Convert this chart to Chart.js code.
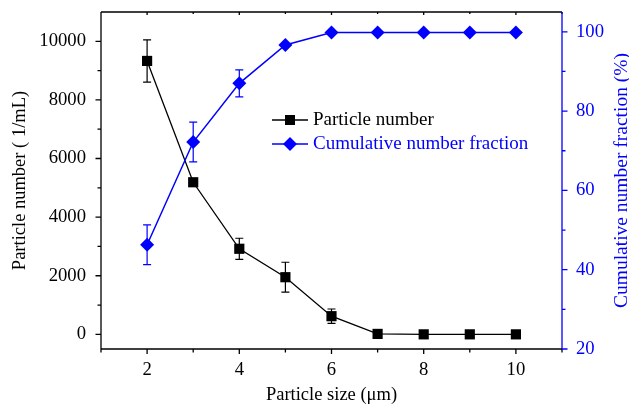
<!DOCTYPE html>
<html><head><meta charset="utf-8">
<script src="https://cdn.jsdelivr.net/npm/chart.js@4"></script>
<style>html,body{margin:0;padding:0;background:#fff}</style>
</head><body>
<canvas id="c" width="629" height="406"></canvas>
<script>
const sizes = [2, 3, 4, 5, 6, 7, 8, 9, 10];
const particleNumber = [9330, 5190, 2920, 1950, 620, 15, 0, 0, 0];
const particleNumberErr = [720, 0, 360, 510, 245, 0, 0, 0, 0];
const cumulativeFraction = [46.3, 72.2, 87.0, 96.7, 99.8, 99.8, 99.8, 99.8, 99.8];
const cumulativeFractionErr = [5, 5, 3.4, 0, 0, 0, 0, 0, 0];
const xTickLabels = [2, 4, 6, 8, 10];
const leftTickLabels = [0, 2000, 4000, 6000, 8000, 10000];
const rightTickLabels = [20, 40, 60, 80, 100];
const seriesNames = ['Particle number', 'Cumulative number fraction'];
const axisTitles = ['Particle size (μm)', 'Particle number ( 1/mL)', 'Cumulative number fraction (%)'];

const FONT = 'Liberation Serif';
const BLUE = '#0000ff';
const BLACK = '#000000';
const TICK_SIZE = 18.7;
const TITLE_SIZE = 18.5;
const RIGHT_TITLE_SIZE = 19.5;
const LEGEND_SIZE = 19;

function noPad(s) { s.paddingLeft = 0; s.paddingRight = 0; s.paddingTop = 0; s.paddingBottom = 0; }

const errorBars = {
  id: 'errorBars',
  beforeDatasetsDraw(chart) {
    const ctx = chart.ctx;
    chart.data.datasets.forEach(ds => {
      if (!ds.errors) return;
      const xs = chart.scales.x, ys = chart.scales[ds.yAxisID];
      ctx.save();
      ctx.strokeStyle = ds.borderColor;
      ctx.lineWidth = 1.2;
      ds.data.forEach((p, j) => {
        const e = ds.errors[j];
        if (!e) return;
        const x = xs.getPixelForValue(p.x);
        const y1 = ys.getPixelForValue(p.y + e), y2 = ys.getPixelForValue(p.y - e);
        ctx.beginPath();
        ctx.moveTo(x, y1); ctx.lineTo(x, y2);
        ctx.moveTo(x - 4, y1); ctx.lineTo(x + 4, y1);
        ctx.moveTo(x - 4, y2); ctx.lineTo(x + 4, y2);
        ctx.stroke();
      });
      ctx.restore();
    });
  }
};

const frame = {
  id: 'frame',
  afterDraw(chart) {
    const ctx = chart.ctx;
    const a = chart.chartArea;
    const xs = chart.scales.x, yl = chart.scales.y, yr = chart.scales.y2;
    ctx.save();
    ctx.lineWidth = 1.3;
    ctx.strokeStyle = BLACK;
    ctx.beginPath();
    ctx.moveTo(a.left, a.top); ctx.lineTo(a.right, a.top);
    ctx.moveTo(a.left, a.top); ctx.lineTo(a.left, a.bottom);
    ctx.moveTo(a.left, a.bottom); ctx.lineTo(a.right, a.bottom);
    for (let v = xs.min; v <= xs.max; v += 1) {
      const x = xs.getPixelForValue(v);
      const major = xTickLabels.includes(v);
      ctx.moveTo(x, a.bottom); ctx.lineTo(x, a.bottom + (major ? 5 : 3.5));
      ctx.moveTo(x, a.top); ctx.lineTo(x, a.top + (major ? 3 : 2));
    }
    for (let v = 0; v <= 10000; v += 1000) {
      const y = yl.getPixelForValue(v);
      const major = leftTickLabels.includes(v);
      ctx.moveTo(a.left, y); ctx.lineTo(a.left - (major ? 5.5 : 3.5), y);
    }
    ctx.stroke();
    ctx.strokeStyle = BLUE;
    ctx.beginPath();
    ctx.moveTo(a.right, a.top); ctx.lineTo(a.right, a.bottom);
    for (let v = 20; v <= 100; v += 10) {
      const y = yr.getPixelForValue(v);
      const major = rightTickLabels.includes(v);
      ctx.moveTo(a.right, y); ctx.lineTo(a.right + (major ? 5.5 : 3.5), y);
    }
    ctx.stroke();
    // right axis title, reading bottom to top
    ctx.translate(621.5, (a.top + a.bottom) / 2);
    ctx.rotate(-Math.PI / 2);
    ctx.fillStyle = BLUE;
    ctx.font = RIGHT_TITLE_SIZE + 'px "' + FONT + '"';
    ctx.textAlign = 'center';
    ctx.textBaseline = 'middle';
    ctx.fillText(axisTitles[2], 0, 0);
    ctx.restore();
  }
};

const legendBox = {
  id: 'legendBox',
  afterDraw(chart) {
    const ctx = chart.ctx;
    const x0 = 272, x1 = 308, xm = 290, tx = 313;
    const rows = [120, 144];
    ctx.save();
    chart.data.datasets.forEach((ds, i) => {
      const y = rows[i];
      ctx.strokeStyle = ds.borderColor;
      ctx.lineWidth = ds.borderWidth;
      ctx.beginPath(); ctx.moveTo(x0, y); ctx.lineTo(x1, y); ctx.stroke();
      ctx.fillStyle = ds.borderColor;
      ctx.beginPath();
      if (ds.pointStyle === 'rect') {
        ctx.rect(xm - 5, y - 5, 10, 10);
      } else {
        ctx.moveTo(xm, y - 7); ctx.lineTo(xm + 7, y); ctx.lineTo(xm, y + 7); ctx.lineTo(xm - 7, y); ctx.closePath();
      }
      ctx.fill();
      ctx.font = LEGEND_SIZE + 'px "' + FONT + '"';
      ctx.textBaseline = 'middle';
      ctx.textAlign = 'left';
      ctx.fillText(ds.label, tx, y);
    });
    ctx.restore();
  }
};

const plain = v => String(v);

new Chart(document.getElementById('c'), {
  type: 'line',
  data: {
    datasets: [
      {
        label: seriesNames[0],
        data: sizes.map((s, i) => ({ x: s, y: particleNumber[i] })),
        errors: particleNumberErr,
        yAxisID: 'y',
        borderColor: BLACK, backgroundColor: BLACK,
        borderWidth: 1.3,
        pointStyle: 'rect', pointRadius: 7.2, pointBorderWidth: 0,
        tension: 0, order: 1, clip: false
      },
      {
        label: seriesNames[1],
        data: sizes.map((s, i) => ({ x: s, y: cumulativeFraction[i] })),
        errors: cumulativeFractionErr,
        yAxisID: 'y2',
        borderColor: BLUE, backgroundColor: BLUE,
        borderWidth: 1.5,
        pointStyle: 'rectRot', pointRadius: 7, pointBorderWidth: 0,
        tension: 0, order: 0, clip: false
      }
    ]
  },
  options: {
    responsive: false,
    animation: false,
    events: [],
    layout: { padding: { top: 12, left: 0, right: 0, bottom: 0 } },
    plugins: { legend: { display: false }, tooltip: { enabled: false } },
    scales: {
      x: {
        type: 'linear', position: 'bottom', min: 1, max: 11,
        afterBuildTicks: s => { s.ticks = xTickLabels.map(v => ({ value: v })); },
        afterFit: s => { s.height = 57; noPad(s); },
        grid: { display: false, drawTicks: false }, border: { display: false },
        ticks: { padding: 10, maxRotation: 0, autoSkip: false, color: BLACK, font: { family: FONT, size: TICK_SIZE }, callback: plain },
        title: { display: true, text: axisTitles[0], color: BLACK, font: { family: FONT, size: TITLE_SIZE, lineHeight: 1 }, padding: { top: 0, bottom: 2 } }
      },
      y: {
        type: 'linear', position: 'left', min: -500, max: 11000,
        afterBuildTicks: s => { s.ticks = leftTickLabels.map(v => ({ value: v })); },
        afterFit: s => { s.width = 101; noPad(s); },
        grid: { display: false, drawTicks: false }, border: { display: false },
        ticks: { padding: 15, autoSkip: false, color: BLACK, font: { family: FONT, size: TICK_SIZE }, callback: plain },
        title: { display: true, text: axisTitles[1], color: BLACK, font: { family: FONT, size: TITLE_SIZE, lineHeight: 1 }, padding: { top: 11, bottom: 0 } }
      },
      y2: {
        type: 'linear', position: 'right', min: 20, max: 105,
        afterBuildTicks: s => { s.ticks = rightTickLabels.map(v => ({ value: v })); },
        afterFit: s => { s.width = 67; noPad(s); },
        grid: { display: false, drawTicks: false }, border: { display: false },
        ticks: { padding: 14, autoSkip: false, color: BLUE, font: { family: FONT, size: TICK_SIZE }, callback: plain },
        title: { display: false }
      }
    }
  },
  plugins: [errorBars, frame, legendBox]
});
</script>
</body></html>
